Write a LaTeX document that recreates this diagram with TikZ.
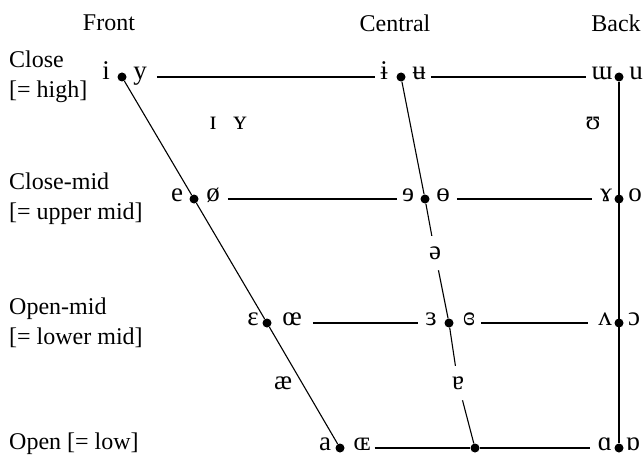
\documentclass[tikz,border=0pt]{standalone}
\usepackage{fontspec}
\setmainfont{Liberation Serif}
\usetikzlibrary{positioning}
\tikzset {
  every node/.style={font=\fontsize{24}{30}\selectfont},
  dot/.style={circle,fill,inner sep=0pt,minimum size=9pt},
  vow/.style={font=\fontsize{27}{30}\selectfont,inner sep=1pt,anchor=mid},
  gapvow/.style={vow,minimum height=34pt},
  rowlab/.style={anchor=west,align=left,inner sep=0pt},
  rule/.style={line width=1.1pt},
}

\begin{document}
\begin{tikzpicture}[x=1pt,y=-1pt]
          \useasboundingbox (0,0) rectangle (644,457);
          % column heads
          \node (front) at (109,23) {Front};
          \node (central) at (395,23) {Central};
          \node (back) at (616,23) {Back};
          % row heads
          \node[rowlab] (close) at (9,77) {Close\\{[}= high]};
          \node[rowlab] (closemid) at (9,199) {Close-mid\\{[}= upper mid]};
          \node[rowlab] (openmid) at (9,323) {Open-mid\\{[}= lower mid]};
          \node[rowlab] (open) at (9,444) {Open {[}= low]};
          % dots
          \node[dot] (cf) at (122,77) {};
          \node[dot] (cc) at (401,77) {};
          \node[dot] (cb) at (619,77) {};
          \node[dot] (cmf) at (194,199) {};
          \node[dot] (cmc) at (425,199) {};
          \node[dot] (cmb) at (619,199) {};
          \node[dot] (omf) at (267,323) {};
          \node[dot] (omc) at (449,323) {};
          \node[dot] (omb) at (619,323) {};
          \node[dot] (of) at (340,448) {};
          \node[dot] (oc) at (475,448) {};
          \node[dot] (ob) at (619,448) {};
          % vowels
          \node[vow] (i) at (106,77) {i};
          \node[vow] (y) at (140,77) {y};
          \node[vow] (ibar) at (384,77) {ɨ};
          \node[vow] (ubar) at (419,77) {ʉ};
          \node[vow] (turnm) at (602,77) {ɯ};
          \node[vow] (u) at (636,77) {u};
          \node[vow] (smallcapi) at (213,127) {ɪ};
          \node[vow] (smallcapy) at (240,127) {ʏ};
          \node[vow] (upsilon) at (593,127) {ʊ};
          \node[vow] (e) at (177,199) {e};
          \node[vow] (oslash) at (213,199) {ø};
          \node[vow] (reve) at (408,199) {ɘ};
          \node[vow] (baro) at (443,199) {ɵ};
          \node[vow] (ramshorn) at (606,199) {ɤ};
          \node[vow] (o) at (635,199) {o};
          \node[gapvow] (schwa) at (435,257) {ə};
          \node[vow] (epsilon) at (253,323) {ɛ};
          \node[vow] (oe) at (292,323) {œ};
          \node[vow] (revepsilon) at (431,323) {ɜ};
          \node[vow] (closedrev) at (469,323) {ɞ};
          \node[vow] (turnv) at (605,323) {ʌ};
          \node[vow] (openo) at (634,323) {ɔ};
          \node[vow] (ash) at (283,387) {æ};
          \node[gapvow] (turna) at (458,387) {ɐ};
          \node[vow] (a) at (325,448) {a};
          \node[vow] (smalloe) at (362,448) {ɶ};
          \node[vow] (scripta) at (605,448) {ɑ};
          \node[vow] (turnscripta) at (633,448) {ɒ};
          % lines
          \draw[rule] (cf) -- (cmf) -- (omf) -- (of);
          \draw[rule] (cc) -- (cmc) -- (schwa);
          \draw[rule] (schwa) -- (omc) -- (turna);
          \draw[rule] (turna) -- (oc);
          \draw[rule] (cb) -- (ob);
          \draw[rule,shorten <=9pt,shorten >=4pt] (y.mid east) -- (ibar.mid west);
          \draw[rule,shorten <=4pt,shorten >=4pt] (ubar.mid east) -- (turnm.mid west);
          \draw[rule,shorten <=7pt,shorten >=4pt] (oslash.mid east) -- (reve.mid west);
          \draw[rule,shorten <=6pt,shorten >=7pt] (baro.mid east) -- (ramshorn.mid west);
          \draw[rule,shorten <=10pt,shorten >=6pt] (oe.mid east) -- (revepsilon.mid west);
          \draw[rule,shorten <=5pt,shorten >=9pt] (closedrev.mid east) -- (turnv.mid west);
          \draw[rule,shorten <=3pt] (smalloe.mid east) -- (oc);
          \draw[rule,shorten >=7pt] (oc) -- (scripta.mid west);
        \end{tikzpicture}
\end{document}
